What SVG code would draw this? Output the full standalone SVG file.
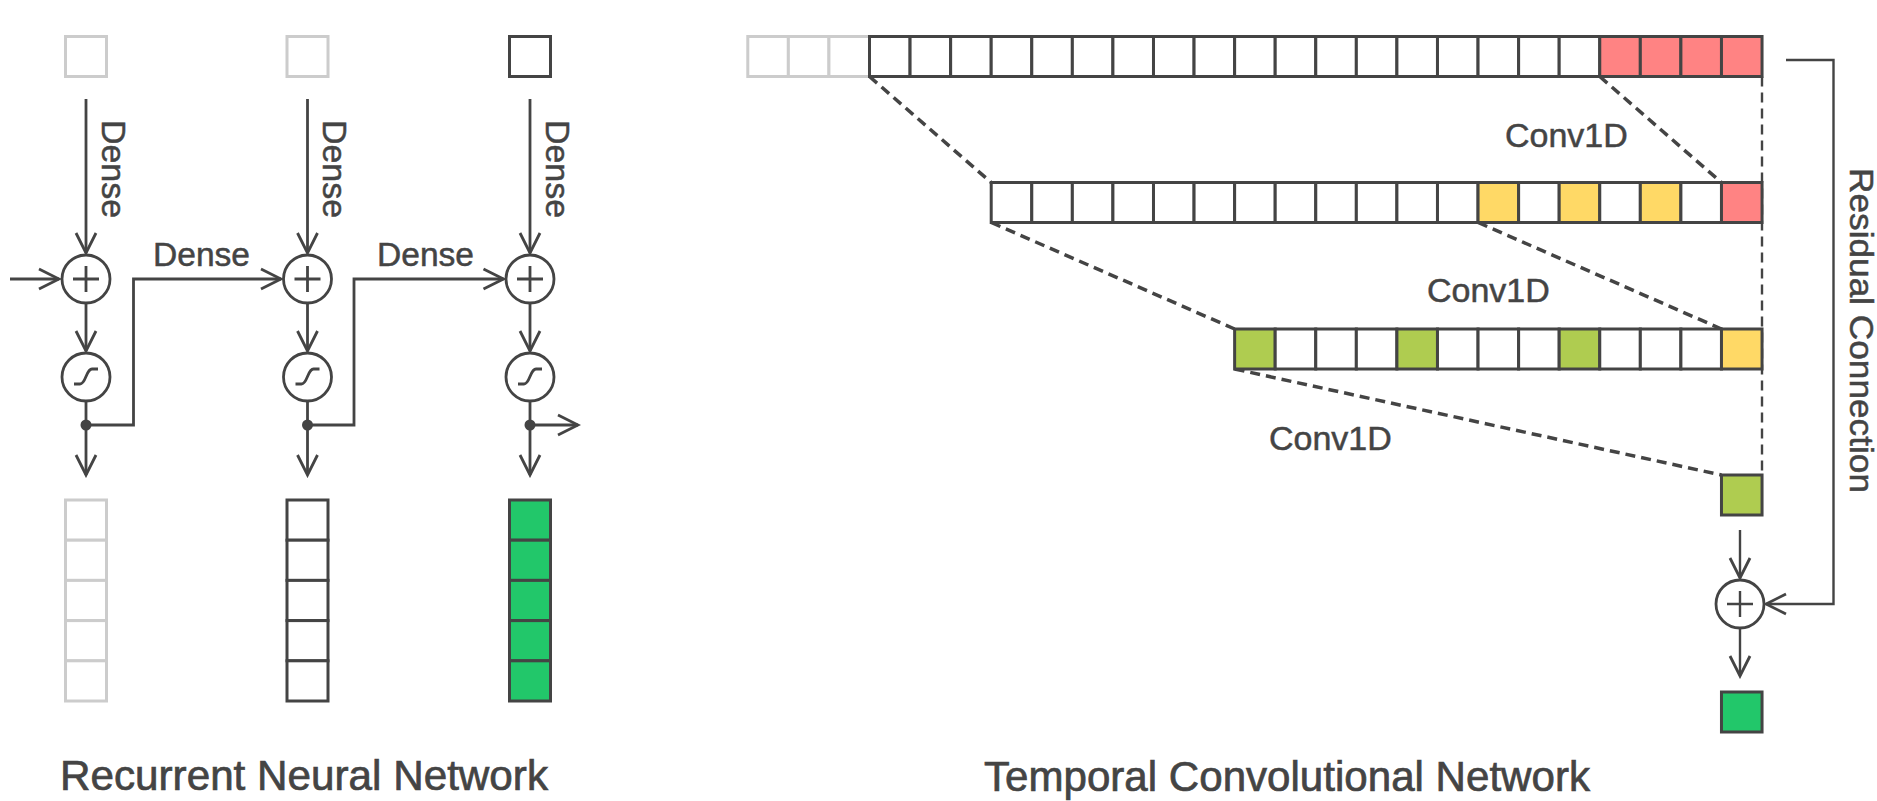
<svg xmlns="http://www.w3.org/2000/svg" width="1877" height="801" viewBox="0 0 1877 801">
<style>
text{font-family:"Liberation Sans",Arial,sans-serif;fill:#444;stroke:#444;stroke-width:0.5}
.lbl{font-size:33px}
.conv{font-size:34px}
.title{font-size:42px;stroke-width:0.7}
.ln{fill:none;stroke:#444;stroke-width:2.8}
.ln2{fill:none;stroke:#444;stroke-width:2.4}
.dash{fill:none;stroke:#444;stroke-width:3.5;stroke-dasharray:10 6}
.vdash{fill:none;stroke:#444;stroke-width:2.4;stroke-dasharray:10 6}
.c{fill:#fff;stroke:#444;stroke-width:3}
.g{fill:#fff;stroke:#ccc;stroke-width:3}
.pk{fill:#ff8383;stroke:#444;stroke-width:3}
.yl{fill:#ffd966;stroke:#444;stroke-width:3}
.lg{fill:#afcc50;stroke:#444;stroke-width:3}
.gr{fill:#22c76a;stroke:#444;stroke-width:3}
.op{fill:#fff;stroke:#444;stroke-width:2.8}
.dot{fill:#444}
</style>
<defs>
<marker id="arr" viewBox="-23 -12 26 24" refX="0" refY="0" markerWidth="26" markerHeight="24" markerUnits="userSpaceOnUse" orient="auto">
<path d="M-20,-10 L0,0 L-20,10" fill="none" stroke="#444" stroke-width="2.8"/>
</marker>
<g id="plus"><circle r="24" class="op"/><path d="M-13,0 H13 M0,-13 V13" class="ln"/></g>
<g id="plus2"><circle r="24" class="op"/><path d="M-13,0 H13 M0,-13 V13" class="ln2"/></g>
<g id="sig"><circle r="24" class="op"/><path d="M-12,7 H-6 C0,7 0,-8 6,-8 H12" class="ln"/></g>
</defs>

<!-- RNN connectors -->
<g id="rnn-connectors">
<path d="M10,279 H59" class="ln" marker-end="url(#arr)"/>
<path d="M86,99 V253" class="ln" marker-end="url(#arr)"/>
<path d="M86,303 V351" class="ln" marker-end="url(#arr)"/>
<path d="M86,401 V475" class="ln" marker-end="url(#arr)"/>
<path d="M86,425 H133.5 V279 H281" class="ln" marker-end="url(#arr)"/>
<path d="M307.5,99 V253" class="ln" marker-end="url(#arr)"/>
<path d="M307.5,303 V351" class="ln" marker-end="url(#arr)"/>
<path d="M307.5,401 V475" class="ln" marker-end="url(#arr)"/>
<path d="M307.5,425 H354 V279 H503.5" class="ln" marker-end="url(#arr)"/>
<path d="M530,99 V253" class="ln" marker-end="url(#arr)"/>
<path d="M530,303 V351" class="ln" marker-end="url(#arr)"/>
<path d="M530,401 V475" class="ln" marker-end="url(#arr)"/>
<path d="M530,425 H578" class="ln" marker-end="url(#arr)"/>
<circle cx="86" cy="425" r="5.5" class="dot"/>
<circle cx="307.5" cy="425" r="5.5" class="dot"/>
<circle cx="530" cy="425" r="5.5" class="dot"/>
<text class="lbl" x="153" y="266" textLength="97" lengthAdjust="spacingAndGlyphs">Dense</text>
<text class="lbl" x="377" y="266" textLength="97" lengthAdjust="spacingAndGlyphs">Dense</text>
<text class="lbl" transform="translate(101.5,120) rotate(90)" textLength="98" lengthAdjust="spacingAndGlyphs">Dense</text>
<text class="lbl" transform="translate(323,120) rotate(90)" textLength="98" lengthAdjust="spacingAndGlyphs">Dense</text>
<text class="lbl" transform="translate(545.5,120) rotate(90)" textLength="98" lengthAdjust="spacingAndGlyphs">Dense</text>
</g>

<!-- RNN step 1 -->
<g id="rnn-step1">
<rect x="65.5" y="36.5" width="41" height="40" class="g"/>
<use href="#plus" x="86" y="279"/>
<use href="#sig" x="86" y="377"/>
<rect x="65.5" y="500" width="41" height="40.2" class="g"/>
<rect x="65.5" y="540.2" width="41" height="40.2" class="g"/>
<rect x="65.5" y="580.4" width="41" height="40.2" class="g"/>
<rect x="65.5" y="620.6" width="41" height="40.2" class="g"/>
<rect x="65.5" y="660.8" width="41" height="40.2" class="g"/>
</g>
<!-- RNN step 2 -->
<g id="rnn-step2">
<rect x="287" y="36.5" width="41" height="40" class="g"/>
<use href="#plus" x="307.5" y="279"/>
<use href="#sig" x="307.5" y="377"/>
<rect x="287" y="500" width="41" height="40.2" class="c"/>
<rect x="287" y="540.2" width="41" height="40.2" class="c"/>
<rect x="287" y="580.4" width="41" height="40.2" class="c"/>
<rect x="287" y="620.6" width="41" height="40.2" class="c"/>
<rect x="287" y="660.8" width="41" height="40.2" class="c"/>
</g>
<!-- RNN step 3 -->
<g id="rnn-step3">
<rect x="509.5" y="36.5" width="41" height="40" class="c"/>
<use href="#plus" x="530" y="279"/>
<use href="#sig" x="530" y="377"/>
<rect x="509.5" y="500" width="41" height="40.2" class="gr"/>
<rect x="509.5" y="540.2" width="41" height="40.2" class="gr"/>
<rect x="509.5" y="580.4" width="41" height="40.2" class="gr"/>
<rect x="509.5" y="620.6" width="41" height="40.2" class="gr"/>
<rect x="509.5" y="660.8" width="41" height="40.2" class="gr"/>
</g>
<text id="rnn-title" class="title" x="60" y="790" textLength="488" lengthAdjust="spacingAndGlyphs">Recurrent Neural Network</text>

<!-- TCN connectors -->
<g id="tcn-connectors">
<path d="M869.5,76.5 L991.21,182.5" class="dash"/>
<path d="M991.21,222.5 L1234.63,329" class="dash"/>
<path d="M1234.63,369 L1721.47,475" class="dash"/>
<path d="M1599.76,76.5 L1721.47,182.5" class="dash"/>
<path d="M1478.05,222.5 L1721.47,329" class="dash"/>
<path d="M1762,76.5 V475" class="vdash"/>
<path d="M1740,530 V578" class="ln2" marker-end="url(#arr)"/>
<path d="M1740,628 V676" class="ln2" marker-end="url(#arr)"/>
<path d="M1786,60 H1833.5 V604 H1766" class="ln2" marker-end="url(#arr)"/>
<text class="conv" x="1505" y="146.7">Conv1D</text>
<text class="conv" x="1427" y="301.5">Conv1D</text>
<text class="conv" x="1269" y="450">Conv1D</text>
<text class="lbl" transform="translate(1850,168) rotate(90)" textLength="325" lengthAdjust="spacingAndGlyphs">Residual Connection</text>
</g>

<!-- TCN input row -->
<g id="tcn-input">
<rect x="747.79" y="36.5" width="40.57" height="40" class="g"/>
<rect x="788.36" y="36.5" width="40.57" height="40" class="g"/>
<rect x="828.93" y="36.5" width="40.57" height="40" class="g"/>
<rect x="869.5" y="36.5" width="40.57" height="40" class="c"/>
<rect x="910.07" y="36.5" width="40.57" height="40" class="c"/>
<rect x="950.64" y="36.5" width="40.57" height="40" class="c"/>
<rect x="991.21" y="36.5" width="40.57" height="40" class="c"/>
<rect x="1031.78" y="36.5" width="40.57" height="40" class="c"/>
<rect x="1072.35" y="36.5" width="40.57" height="40" class="c"/>
<rect x="1112.92" y="36.5" width="40.57" height="40" class="c"/>
<rect x="1153.49" y="36.5" width="40.57" height="40" class="c"/>
<rect x="1194.06" y="36.5" width="40.57" height="40" class="c"/>
<rect x="1234.63" y="36.5" width="40.57" height="40" class="c"/>
<rect x="1275.2" y="36.5" width="40.57" height="40" class="c"/>
<rect x="1315.77" y="36.5" width="40.57" height="40" class="c"/>
<rect x="1356.34" y="36.5" width="40.57" height="40" class="c"/>
<rect x="1396.91" y="36.5" width="40.57" height="40" class="c"/>
<rect x="1437.48" y="36.5" width="40.57" height="40" class="c"/>
<rect x="1478.05" y="36.5" width="40.57" height="40" class="c"/>
<rect x="1518.62" y="36.5" width="40.57" height="40" class="c"/>
<rect x="1559.19" y="36.5" width="40.57" height="40" class="c"/>
<rect x="1599.76" y="36.5" width="40.57" height="40" class="pk"/>
<rect x="1640.33" y="36.5" width="40.57" height="40" class="pk"/>
<rect x="1680.9" y="36.5" width="40.57" height="40" class="pk"/>
<rect x="1721.47" y="36.5" width="40.57" height="40" class="pk"/>
</g>

<!-- TCN layer 2 -->
<g id="tcn-layer2">
<rect x="991.21" y="182.5" width="40.57" height="40" class="c"/>
<rect x="1031.78" y="182.5" width="40.57" height="40" class="c"/>
<rect x="1072.35" y="182.5" width="40.57" height="40" class="c"/>
<rect x="1112.92" y="182.5" width="40.57" height="40" class="c"/>
<rect x="1153.49" y="182.5" width="40.57" height="40" class="c"/>
<rect x="1194.06" y="182.5" width="40.57" height="40" class="c"/>
<rect x="1234.63" y="182.5" width="40.57" height="40" class="c"/>
<rect x="1275.2" y="182.5" width="40.57" height="40" class="c"/>
<rect x="1315.77" y="182.5" width="40.57" height="40" class="c"/>
<rect x="1356.34" y="182.5" width="40.57" height="40" class="c"/>
<rect x="1396.91" y="182.5" width="40.57" height="40" class="c"/>
<rect x="1437.48" y="182.5" width="40.57" height="40" class="c"/>
<rect x="1478.05" y="182.5" width="40.57" height="40" class="yl"/>
<rect x="1518.62" y="182.5" width="40.57" height="40" class="c"/>
<rect x="1559.19" y="182.5" width="40.57" height="40" class="yl"/>
<rect x="1599.76" y="182.5" width="40.57" height="40" class="c"/>
<rect x="1640.33" y="182.5" width="40.57" height="40" class="yl"/>
<rect x="1680.9" y="182.5" width="40.57" height="40" class="c"/>
<rect x="1721.47" y="182.5" width="40.57" height="40" class="pk"/>
</g>

<!-- TCN layer 3 -->
<g id="tcn-layer3">
<rect x="1234.63" y="329" width="40.57" height="40" class="lg"/>
<rect x="1275.2" y="329" width="40.57" height="40" class="c"/>
<rect x="1315.77" y="329" width="40.57" height="40" class="c"/>
<rect x="1356.34" y="329" width="40.57" height="40" class="c"/>
<rect x="1396.91" y="329" width="40.57" height="40" class="lg"/>
<rect x="1437.48" y="329" width="40.57" height="40" class="c"/>
<rect x="1478.05" y="329" width="40.57" height="40" class="c"/>
<rect x="1518.62" y="329" width="40.57" height="40" class="c"/>
<rect x="1559.19" y="329" width="40.57" height="40" class="lg"/>
<rect x="1599.76" y="329" width="40.57" height="40" class="c"/>
<rect x="1640.33" y="329" width="40.57" height="40" class="c"/>
<rect x="1680.9" y="329" width="40.57" height="40" class="c"/>
<rect x="1721.47" y="329" width="40.57" height="40" class="yl"/>
</g>

<g id="tcn-conv-out"><rect x="1721.47" y="475" width="40.57" height="40" class="lg"/></g>
<g id="tcn-add"><use href="#plus2" x="1740" y="604"/></g>
<g id="tcn-output"><rect x="1721.47" y="692" width="40.57" height="40" class="gr"/></g>
<text id="tcn-title" class="title" x="984" y="791" textLength="606" lengthAdjust="spacingAndGlyphs">Temporal Convolutional Network</text>
</svg>
